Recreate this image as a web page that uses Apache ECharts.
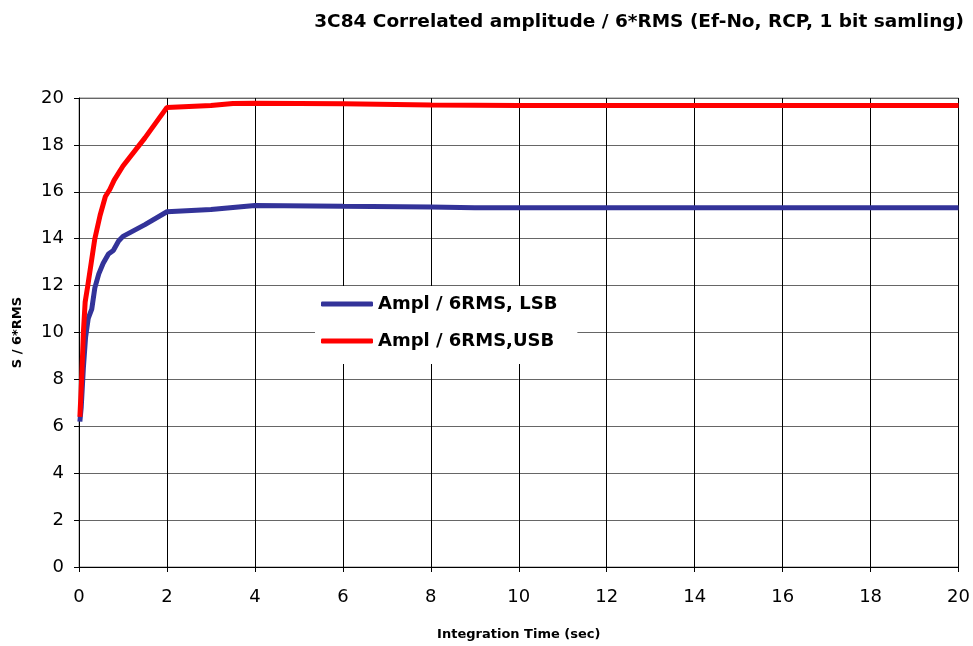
<!DOCTYPE html>
<html>
<head>
<meta charset="utf-8">
<script src="https://cdn.jsdelivr.net/npm/echarts@6/dist/echarts.min.js"></script>
<style>html,body{margin:0;padding:0;background:#fff;}#c{width:973px;height:646px;}</style>
</head>
<body>
<div id="c"></div>
<script>
const titleText = '3C84 Correlated amplitude / 6*RMS (Ef-No, RCP, 1 bit samling)';
const xName = 'Integration Time (sec)';
const yName = 'S / 6*RMS';
const seriesNames = ['Ampl / 6RMS, LSB', 'Ampl / 6RMS,USB'];

const lsbTime = [0.02, 0.05, 0.1, 0.15, 0.21, 0.29, 0.36, 0.45, 0.55, 0.67, 0.78, 0.9, 1, 1.5, 2, 3, 4, 6, 8, 9, 20];
const lsbValues = [6.2, 6.8, 8.5, 9.8, 10.6, 11.0, 11.9, 12.5, 12.95, 13.35, 13.5, 13.9, 14.1, 14.6, 15.15, 15.25, 15.42, 15.38, 15.35, 15.32, 15.32];

const usbTime = [0.02, 0.06, 0.1, 0.14, 0.2, 0.28, 0.36, 0.48, 0.6, 0.7, 0.8, 1, 1.5, 2, 3, 3.5, 4, 6, 8, 10, 20];
const usbValues = [6.4, 8.0, 10.0, 11.3, 12.0, 13.0, 14.0, 15.0, 15.8, 16.1, 16.5, 17.1, 18.3, 19.6, 19.68, 19.77, 19.78, 19.75, 19.7, 19.68, 19.68];

const xTicks = [0, 20, 2];
const yTicks = [0, 20, 2];

function pairs(xs, ys) { return xs.map((x, i) => [x, ys[i]]); }

const chart = echarts.init(document.getElementById('c'), null, {renderer: 'canvas'});
const font = 'DejaVu Sans, Liberation Sans, sans-serif';
chart.setOption({
  animation: false,
  backgroundColor: '#fff',
  textStyle: {fontFamily: font},
  title: {
    text: titleText, right: 4, top: 8,
    textStyle: {fontSize: 18.5, fontWeight: 'bold', color: '#000', fontFamily: font}
  },
  grid: {left: 79, right: 13, top: 98, bottom: 79, show: true, borderColor: '#888', borderWidth: 1, backgroundColor: 'transparent'},
  legend: {
    orient: 'vertical', left: 315, top: 286,
    backgroundColor: '#fff',
    padding: [9, 20, 14, 6],
    itemGap: 19, itemWidth: 52, itemHeight: 5,
    icon: 'roundRect',
    textStyle: {fontSize: 18, fontWeight: 'bold', color: '#000', fontFamily: font},
    data: seriesNames
  },
  xAxis: {
    type: 'value', min: xTicks[0], max: xTicks[1], interval: xTicks[2],
    name: xName, nameLocation: 'middle', nameGap: 61,
    nameTextStyle: {fontSize: 13, fontWeight: 'bold', color: '#000', verticalAlign: 'top'},
    axisLine: {show: true, lineStyle: {color: '#000', width: 1}},
    axisTick: {show: true, length: 5, lineStyle: {color: '#000'}},
    axisLabel: {fontSize: 18, color: '#000', margin: 21},
    splitLine: {show: true, lineStyle: {color: '#000', width: 1}}
  },
  yAxis: {
    type: 'value', min: yTicks[0], max: yTicks[1], interval: yTicks[2],
    name: yName, nameLocation: 'middle', nameGap: 55, nameRotate: 90,
    nameTextStyle: {fontSize: 13, fontWeight: 'bold', color: '#000'},
    axisLine: {show: true, lineStyle: {color: '#000', width: 1}},
    axisTick: {show: true, length: 5, lineStyle: {color: '#000'}},
    axisLabel: {fontSize: 18, color: '#000', margin: 15},
    splitLine: {show: true, lineStyle: {color: '#666', width: 1}}
  },
  series: [
    {name: seriesNames[0], type: 'line', data: pairs(lsbTime, lsbValues), showSymbol: false, symbol: 'none',
     lineStyle: {color: '#333399', width: 5}, itemStyle: {color: '#333399'}, z: 3},
    {name: seriesNames[1], type: 'line', data: pairs(usbTime, usbValues), showSymbol: false, symbol: 'none',
     lineStyle: {color: '#ff0000', width: 5}, itemStyle: {color: '#ff0000'}, z: 4}
  ]
});
</script>
</body>
</html>
